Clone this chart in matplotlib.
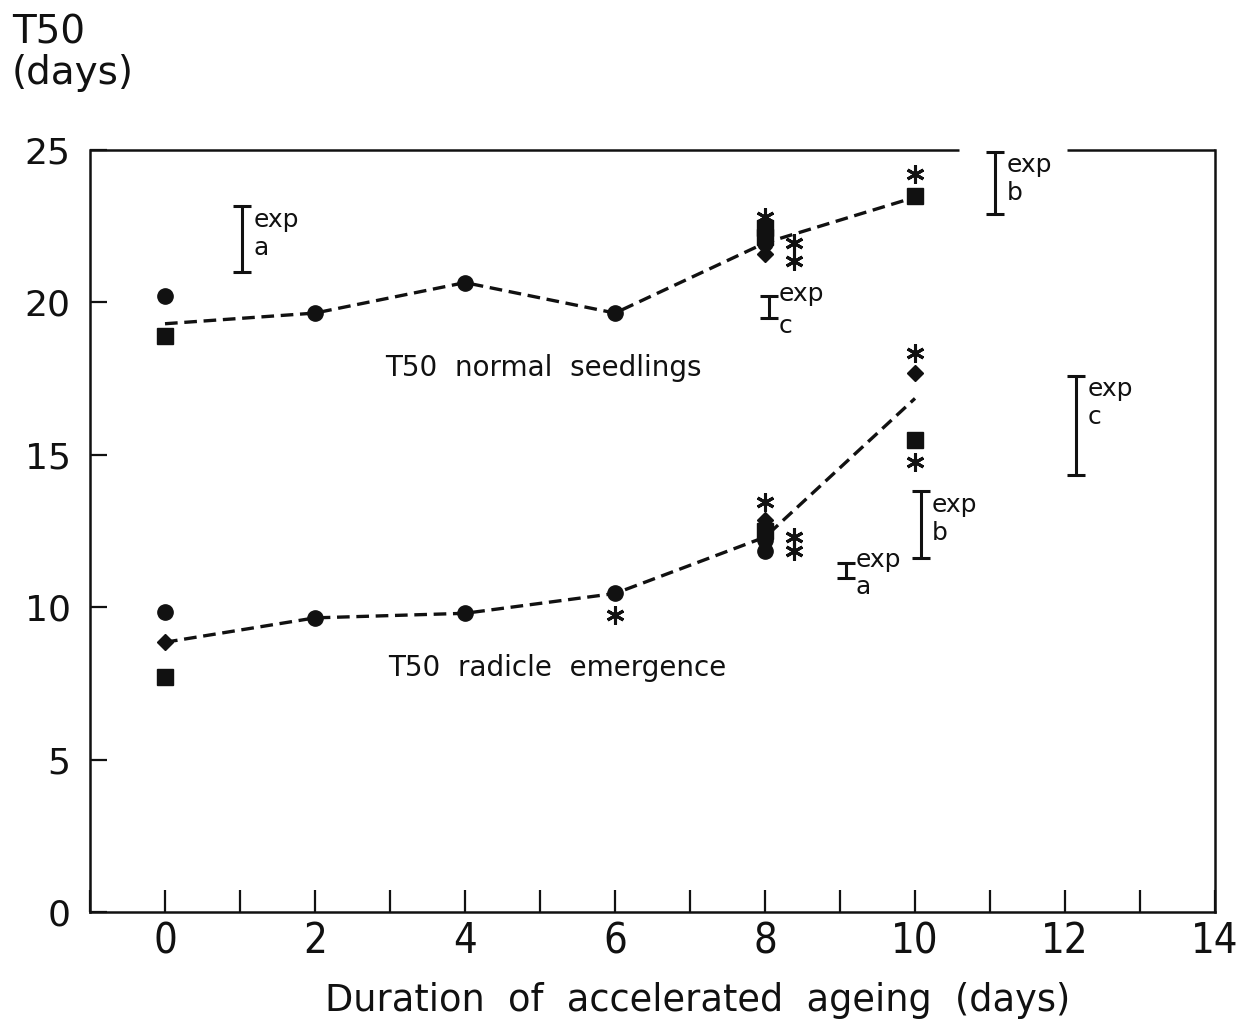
import matplotlib
matplotlib.use("Agg")
import matplotlib.pyplot as plt

# ---- data -------------------------------------------------------------
ageing_days = [0, 2, 4, 6, 8, 10]

# mean T50 (days) joined by the dashed lines
normal_mean = [19.3, 19.65, 20.65, 19.65, 21.95, 23.45]
radicle_mean = [8.85, 9.65, 9.8, 10.45, 12.3, 16.85]

# individual experiment values, normal seedlings
normal_circle_x = [0, 2, 4, 6, 8]
normal_circle_y = [20.2, 19.65, 20.65, 19.65, 21.95]
normal_square_x = [0, 8, 8, 10]
normal_square_y = [18.9, 22.45, 22.15, 23.5]
normal_diamond_x = [8]
normal_diamond_y = [21.6]
normal_star_x = [8, 8.38, 8.38, 10]
normal_star_y = [22.8, 21.95, 21.35, 24.2]

# individual experiment values, radicle emergence
radicle_circle_x = [0, 2, 4, 6, 8, 8]
radicle_circle_y = [9.85, 9.65, 9.8, 10.45, 12.2, 11.85]
radicle_square_x = [0, 8, 10]
radicle_square_y = [7.7, 12.5, 15.5]
radicle_diamond_x = [0, 8, 10]
radicle_diamond_y = [8.85, 12.85, 17.7]
radicle_star_x = [6, 8, 8.38, 8.38, 10, 10]
radicle_star_y = [9.75, 13.45, 12.3, 11.85, 18.35, 14.75]

# ranges shown for each experiment (x position, low, high, letter)
range_x = [1.03, 11.07, 8.05, 12.15, 10.08, 9.08]
range_lo = [21.0, 22.9, 19.5, 14.35, 11.6, 10.95]
range_hi = [23.15, 24.95, 20.2, 17.6, 13.8, 11.45]
range_letter = ["a", "b", "c", "c", "b", "a"]
range_small = [False, False, True, False, False, True]

x_ticks = [0, 2, 4, 6, 8, 10, 12, 14]
y_ticks = [0, 5, 10, 15, 20, 25]

# ---- figure -----------------------------------------------------------
W, H = 1253, 1019
fig = plt.figure(figsize=(W / 100, H / 100), dpi=100)
left_px, right_px, bottom_px, top_px = 90, 1215, 912, 150
ax = fig.add_axes([left_px / W, 1 - bottom_px / H,
                   (right_px - left_px) / W, (bottom_px - top_px) / H])
ax.set_xlim(-1, 14)
ax.set_ylim(0, 25)

ink = "#111111"
mk = dict(linestyle="none", color=ink)

ax.plot(ageing_days, normal_mean, color=ink, lw=2.4,
        ls=(0, (3.8, 2.0)), zorder=2)
ax.plot(ageing_days, radicle_mean, color=ink, lw=2.4,
        ls=(0, (3.8, 2.0)), zorder=2)

star = (6, 2, 0)
for xs, ys in [(normal_circle_x, normal_circle_y),
               (radicle_circle_x, radicle_circle_y)]:
    ax.plot(xs, ys, marker="o", ms=11, **mk, zorder=3)
for xs, ys in [(normal_square_x, normal_square_y),
               (radicle_square_x, radicle_square_y)]:
    ax.plot(xs, ys, marker="s", ms=11.5, **mk, zorder=3)
for xs, ys in [(normal_diamond_x, normal_diamond_y),
               (radicle_diamond_x, radicle_diamond_y)]:
    ax.plot(xs, ys, marker="D", ms=8.5, **mk, zorder=3)
for xs, ys in [(normal_star_x, normal_star_y),
               (radicle_star_x, radicle_star_y)]:
    ax.plot(xs, ys, marker=star, ms=13, mew=2.2, **mk, zorder=3)

# experiment ranges with their labels
lab_font = dict(family="DejaVu Sans", fontsize=18, color=ink)
for x, lo, hi, let, small in zip(range_x, range_lo, range_hi,
                                 range_letter, range_small):
    mid = (lo + hi) / 2
    ax.errorbar([x], [mid], yerr=[[mid - lo], [hi - mid]],
                fmt="none", ecolor=ink, elinewidth=2.2, capsize=6.5,
                capthick=2.2)
    if small:
        ax.annotate("exp", (x, hi), xytext=(7, 2), textcoords="offset points",
                    ha="left", va="center", **lab_font)
        ax.annotate(let, (x, lo), xytext=(7, -6), textcoords="offset points",
                    ha="left", va="center", **lab_font)
    else:
        ax.annotate("exp", (x, hi), xytext=(8, -1), textcoords="offset points",
                    ha="left", va="top", **lab_font)
        ax.annotate(let, (x, hi), xytext=(8, -21), textcoords="offset points",
                    ha="left", va="top", **lab_font)

ax.text(5.05, 17.85, "T50  normal  seedlings", ha="center", va="center",
        family="DejaVu Sans", fontsize=20, color=ink)
ax.text(5.23, 8.0, "T50  radicle  emergence", ha="center", va="center",
        family="DejaVu Sans", fontsize=20, color=ink)

# frame: top edge is interrupted around the upper range bar
for side in ["left", "right", "bottom"]:
    ax.spines[side].set_linewidth(1.8)
    ax.spines[side].set_color(ink)
ax.spines["top"].set_visible(False)
ax.plot([0, 0.772], [1, 1], transform=ax.transAxes, color=ink, lw=1.8,
        clip_on=False, solid_capstyle="butt")
ax.plot([0.868, 1], [1, 1], transform=ax.transAxes, color=ink, lw=1.8,
        clip_on=False, solid_capstyle="butt")

ax.set_xticks(x_ticks)
ax.set_xticks(range(-1, 15), minor=True)
ax.set_yticks(y_ticks)
ax.tick_params(axis="x", which="both", direction="in", length=16, width=1.6,
               color=ink, labelsize=30, pad=6)
ax.tick_params(axis="x", which="minor", labelbottom=False)
ax.tick_params(axis="y", direction="in", length=12, width=1.6, color=ink,
               labelsize=26, pad=14)
ax.yaxis.set_major_formatter(plt.FuncFormatter(lambda v, p: f"{v:g}"))
for lbl in ax.get_xticklabels():
    lbl.set_fontstretch("condensed")
    lbl.set_color(ink)
for lbl in ax.get_yticklabels():
    lbl.set_color(ink)

ax.set_xlabel("Duration  of  accelerated  ageing  (days)", fontsize=26.5,
              color=ink)
ax.xaxis.set_label_coords(0.54, -0.092)

fig.text(12 / W, 1 - 14 / H, "T50\n(days)", ha="left", va="top",
         fontsize=28, color=ink, linespacing=1.05)

fig.savefig("out.png", dpi=100)
